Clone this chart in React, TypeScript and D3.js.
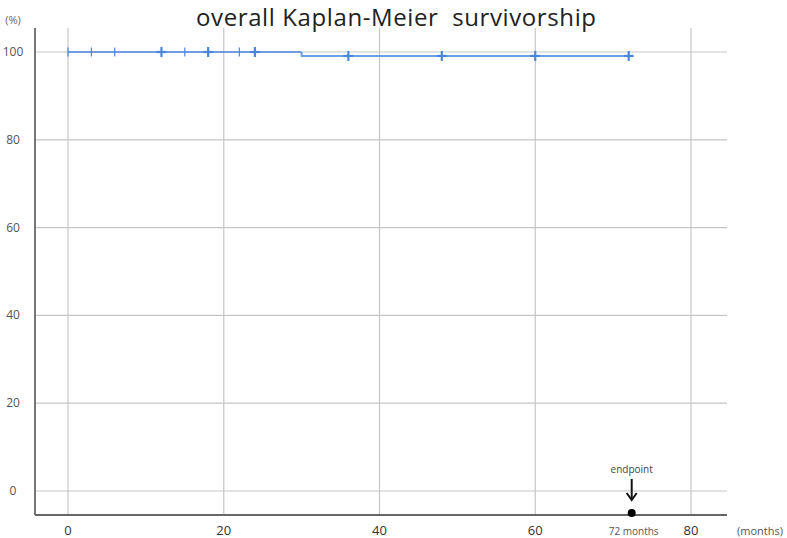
import React from "react";
import * as d3 from "d3";

const xTicks = [0, 20, 40, 60, 80];
const yTicks = [0, 20, 40, 60, 80, 100];
const stepTimes = [0, 30, 30, 72];
const stepSurvival = [100, 100, 99.1, 99.1];
const censorTimes = [0, 3, 6, 12, 15, 18, 22, 24, 36, 48, 60, 72];
const censorSurvival = [100, 100, 100, 100, 100, 100, 100, 100, 99.1, 99.1, 99.1, 99.1];
const censorBold = [false, false, false, true, false, true, false, true, true, true, true, true];
const endpointMonth = 72;

const W = 787;
const H = 538;

export default function App() {
  const x = d3.scaleLinear().domain([0, 80]).range([68, 691]);
  const y = d3.scaleLinear().domain([0, 100]).range([491, 52]);
  const left = 35;
  const right = 727;
  const top = 28;
  const bottom = 515;

  const pts: [number, number][] = stepTimes.map((t, i) => [t, stepSurvival[i]]);
  const line = d3
    .line<[number, number]>()
    .x((d) => x(d[0]))
    .y((d) => y(d[1]));
  const upper = pts.slice(0, 2);
  const lower = pts.slice(1);

  const blue = "#4a86dc";
  const font = "'Open Sans', 'Noto Sans', sans-serif";
  const ex = x(endpointMonth) + 3;

  return (
    <svg width={W} height={H} style={{ position: "absolute", left: 0, top: 0, background: "#fff" }}>
      <rect width={W} height={H} fill="#fff" />
      <text
        x={396}
        y={26}
        textAnchor="middle"
        fontFamily={font}
        fontSize={24}
        fill="#222"
        textLength={400}
        lengthAdjust="spacing"
        style={{ whiteSpace: "pre" }}
      >
        {"overall Kaplan-Meier  survivorship"}
      </text>
      {/* grid */}
      {yTicks.map((v) => (
        <line key={"gy" + v} x1={left} x2={right} y1={y(v)} y2={y(v)} stroke="#c6c6c6" strokeWidth={1.2} />
      ))}
      {xTicks.map((v) => (
        <line key={"gx" + v} x1={x(v)} x2={x(v)} y1={top} y2={bottom} stroke="#c6c6c6" strokeWidth={1.2} />
      ))}
      {/* axes */}
      <line x1={left} x2={left} y1={top} y2={bottom} stroke="#777" strokeWidth={2} />
      <line x1={left} x2={right} y1={bottom} y2={bottom} stroke="#666" strokeWidth={2} />
      {/* labels */}
      <text x={13} y={24} textAnchor="middle" fontFamily={font} fontSize={11} fill="#666">(%)</text>
      {yTicks.map((v) => (
        <text key={"ty" + v} x={13} y={y(v) + 4} textAnchor="middle" fontFamily={font} fontSize={12} fill="#555">
          {v}
        </text>
      ))}
      {xTicks.map((v) => (
        <text key={"tx" + v} x={x(v)} y={535} textAnchor="middle" fontFamily={font} fontSize={13} fill="#333">
          {v}
        </text>
      ))}
      <text x={760} y={535} textAnchor="middle" fontFamily={font} fontSize={11} fill="#555">(months)</text>
      {/* curve */}
      <path d={line(upper) || ""} fill="none" stroke={blue} strokeWidth={1.6} />
      <path d={line(lower) || ""} fill="none" stroke="#6d9fe6" strokeWidth={2} />
      {censorTimes.map((t, i) => {
        const cx = x(t);
        const cy = y(censorSurvival[i]);
        const b = censorBold[i];
        const h = b ? 5 : 4.5;
        const w = b ? 5 : 0;
        return (
          <g key={"c" + i} stroke={blue} strokeWidth={b ? 2.2 : 1.2}>
            <line x1={cx} x2={cx} y1={cy - h} y2={cy + h} />
            {b && <line x1={cx - w} x2={cx + w} y1={cy} y2={cy} />}
          </g>
        );
      })}
      {/* endpoint annotation */}
      <text x={ex} y={473} textAnchor="middle" fontFamily={font} fontSize={10} fill="#444">
        endpoint
      </text>
      <line x1={ex} x2={ex} y1={479} y2={499} stroke="#111" strokeWidth={2} />
      <path d={`M${ex - 5},${493} L${ex},${500} L${ex + 5},${493}`} fill="none" stroke="#111" strokeWidth={2} />
      <circle cx={ex} cy={513} r={4} fill="#000" />
      <text x={ex + 2} y={535} textAnchor="middle" fontFamily={font} fontSize={10} fill="#555">
        72 months
      </text>
    </svg>
  );
}
